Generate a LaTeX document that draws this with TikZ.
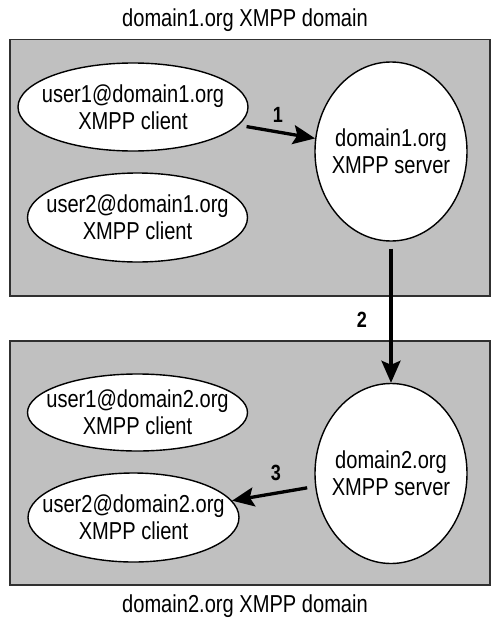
\documentclass[tikz,border=0pt]{standalone}
\usepackage{fontspec}
\setmainfont{Liberation Sans}[FakeStretch=0.82]
\usetikzlibrary{shapes.geometric,arrows.meta}
\definecolor{boxgray}{HTML}{C0C0C0}
\definecolor{boxline}{HTML}{303030}
\begin{document}
\begin{tikzpicture}[x=1pt,y=-1pt,
  domainbox/.style={draw=boxline, fill=boxgray, line width=1.5pt, inner sep=0, anchor=north west},
  client/.style={ellipse, draw=black, fill=white, line width=1.4pt, inner sep=0},
  txt/.style={font=\fontsize{24.5}{27}\selectfont, align=center, inner sep=0},
  arr/.style={line width=3.3pt, -{Stealth[length=22pt,width=19pt,inset=4pt]}},
  num/.style={font=\fontsize{22}{24}\selectfont\bfseries, inner sep=0}]
\useasboundingbox (0,0) rectangle (490,618);
\fill[white] (0,0) rectangle (490,618);
% domain boxes
\node[domainbox, minimum width=480pt, minimum height=256pt] (d1) at (9,39) {};
\node[domainbox, minimum width=480pt, minimum height=244pt] (d2) at (9,340) {};
% titles
\node[txt, anchor=base] (title1) at (245,27) {domain1.org XMPP domain};
\node[txt, anchor=base] (title2) at (245,612) {domain2.org XMPP domain};
% ellipses
\node[client, minimum width=230pt, minimum height=88pt] (u11) at (133,107) {};
\node[client, minimum width=220pt, minimum height=89pt] (u21) at (137.5,217.5) {};
\node[client, minimum width=152pt, minimum height=179pt] (s1) at (391,151.5) {};
\node[client, minimum width=220pt, minimum height=77pt] (u12) at (137.5,412.5) {};
\node[client, minimum width=211pt, minimum height=89pt] (u22) at (133.5,517.5) {};
\node[client, minimum width=152pt, minimum height=180pt] (s2) at (391,473.5) {};
% texts
\node[txt] (tu11) at (u11) {user1@domain1.org\\XMPP client};
\node[txt] (tu21) at (u21) {user2@domain1.org\\XMPP client};
\node[txt] (ts1) at (s1) {domain1.org\\XMPP server};
\node[txt] (tu12) at (u12) {user1@domain2.org\\XMPP client};
\node[txt] (tu22) at (u22) {user2@domain2.org\\XMPP client};
\node[txt] (ts2) at (s2) {domain2.org\\XMPP server};
% connectors
\draw[arr, shorten <=8pt] (u11) -- (s1);
\draw[arr, shorten <=7pt] (s1) -- (s2);
\draw[arr, shorten <=8pt] (s2) -- (u22);
% step numbers
\node[num] (n1) at (278,115) {1};
\node[num] (n2) at (362,320) {2};
\node[num] (n3) at (276,473) {3};
\end{tikzpicture}
\end{document}
